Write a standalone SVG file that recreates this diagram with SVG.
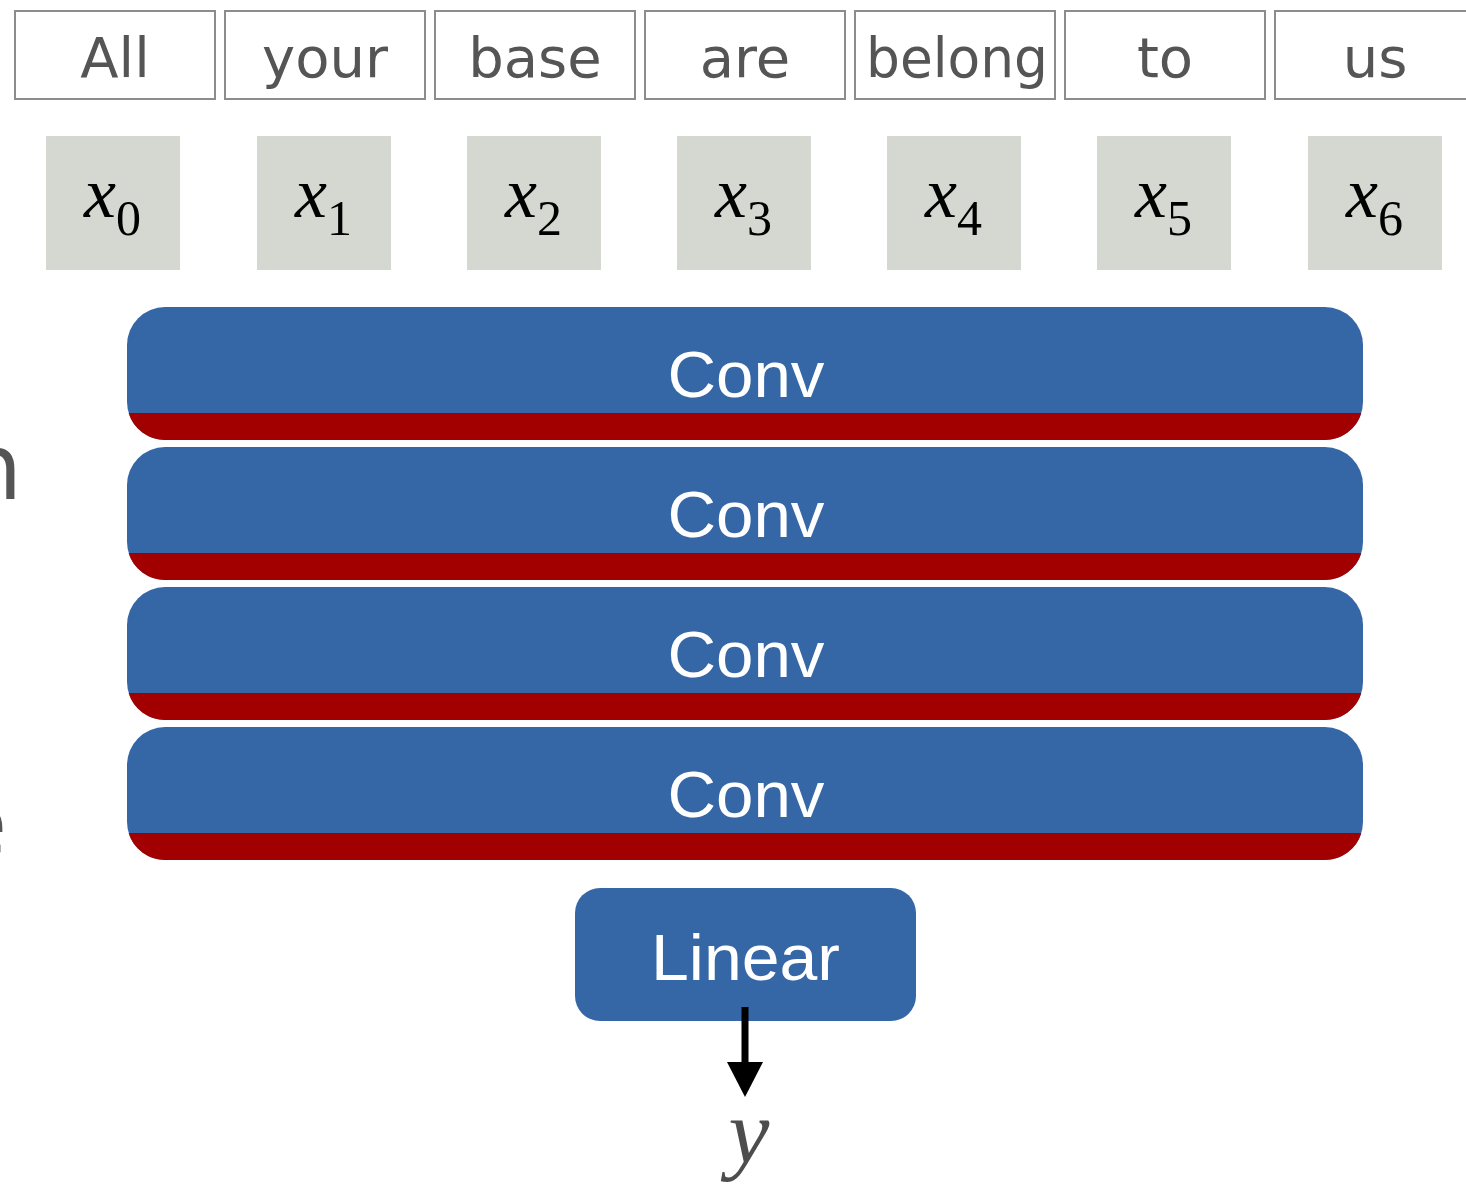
<svg xmlns="http://www.w3.org/2000/svg" xmlns:xlink="http://www.w3.org/1999/xlink" width="1466" height="1185" viewBox="0 0 1466 1185">
<style>
.word rect{fill:#fff;stroke:#8c8c8c;stroke-width:2}
.word text{font-family:"DejaVu Sans",sans-serif;font-size:56px;fill:#555;text-anchor:middle}
.tok rect{fill:#d5d7d1}
.tok text{font-family:"Liberation Serif",serif;fill:#000}
.tok .v{font-style:italic;font-size:72px}
.tok .s{font-size:50px}
.blue{fill:#3567a6}
.red{fill:#a20000}
.lbl{font-family:"Liberation Sans",Arial,sans-serif;font-size:64px;fill:#fff;text-anchor:middle}
.frag{font-family:"DejaVu Sans",sans-serif;font-size:90px;fill:#555;text-anchor:end}
</style>
<defs>
<g id="convShape">
<rect class="blue" x="127" y="307" width="1236" height="133" rx="38" ry="38"/>
<path class="red" d="M128.63,413 H1361.37 A38,38 0 0 1 1325,440 H165 A38,38 0 0 1 128.63,413 Z"/>
</g>
<marker id="ah" markerUnits="userSpaceOnUse" markerWidth="36" markerHeight="36" refX="0" refY="18" orient="auto" viewBox="0 0 36 36">
<path d="M0,0 L35,18 L0,36 Z" fill="#000"/>
</marker>
</defs>
<rect width="1466" height="1185" fill="#fff"/>
<g id="fragments">
<text class="frag" x="22" y="499">n</text>
<text class="frag" x="7" y="855">e</text>
</g>
<g id="w0" class="word"><rect x="15" y="11" width="200" height="88"/><text x="115" y="77">All</text></g>
<g id="w1" class="word"><rect x="225" y="11" width="200" height="88"/><text x="325" y="77">your</text></g>
<g id="w2" class="word"><rect x="435" y="11" width="200" height="88"/><text x="535" y="77">base</text></g>
<g id="w3" class="word"><rect x="645" y="11" width="200" height="88"/><text x="745" y="77">are</text></g>
<g id="w4" class="word"><rect x="855" y="11" width="200" height="88"/><text x="957" y="77" textLength="182" lengthAdjust="spacingAndGlyphs">belong</text></g>
<g id="w5" class="word"><rect x="1065" y="11" width="200" height="88"/><text x="1165" y="77">to</text></g>
<g id="w6" class="word"><rect x="1275" y="11" width="200" height="88"/><text x="1375" y="77">us</text></g>
<g id="x0" class="tok"><rect x="46" y="136" width="134" height="134"/><text x="84" y="217"><tspan class="v">x</tspan><tspan class="s" dy="18">0</tspan></text></g>
<g id="x1" class="tok"><rect x="257" y="136" width="134" height="134"/><text x="295" y="217"><tspan class="v">x</tspan><tspan class="s" dy="18">1</tspan></text></g>
<g id="x2" class="tok"><rect x="467" y="136" width="134" height="134"/><text x="505" y="217"><tspan class="v">x</tspan><tspan class="s" dy="18">2</tspan></text></g>
<g id="x3" class="tok"><rect x="677" y="136" width="134" height="134"/><text x="715" y="217"><tspan class="v">x</tspan><tspan class="s" dy="18">3</tspan></text></g>
<g id="x4" class="tok"><rect x="887" y="136" width="134" height="134"/><text x="925" y="217"><tspan class="v">x</tspan><tspan class="s" dy="18">4</tspan></text></g>
<g id="x5" class="tok"><rect x="1097" y="136" width="134" height="134"/><text x="1135" y="217"><tspan class="v">x</tspan><tspan class="s" dy="18">5</tspan></text></g>
<g id="x6" class="tok"><rect x="1308" y="136" width="134" height="134"/><text x="1346" y="217"><tspan class="v">x</tspan><tspan class="s" dy="18">6</tspan></text></g>
<g id="conv1"><use xlink:href="#convShape"/><text class="lbl" x="746" y="397" textLength="157" lengthAdjust="spacingAndGlyphs">Conv</text></g>
<g id="conv2" transform="translate(0,140)"><use xlink:href="#convShape"/><text class="lbl" x="746" y="397" textLength="157" lengthAdjust="spacingAndGlyphs">Conv</text></g>
<g id="conv3" transform="translate(0,280)"><use xlink:href="#convShape"/><text class="lbl" x="746" y="397" textLength="157" lengthAdjust="spacingAndGlyphs">Conv</text></g>
<g id="conv4" transform="translate(0,420)"><use xlink:href="#convShape"/><text class="lbl" x="746" y="397" textLength="157" lengthAdjust="spacingAndGlyphs">Conv</text></g>
<g id="linear"><rect class="blue" x="575" y="888" width="341" height="133" rx="25" ry="25"/><text class="lbl" x="745.5" y="980" textLength="189" lengthAdjust="spacingAndGlyphs">Linear</text></g>
<g id="connectors">
<line x1="745" y1="1007" x2="745" y2="1062" stroke="#000" stroke-width="7" marker-end="url(#ah)"/>
</g>
<g id="output"><text x="749" y="1163" font-family="Liberation Serif,serif" font-style="italic" font-size="92" fill="#4d4d4d" text-anchor="middle">y</text></g>
</svg>
